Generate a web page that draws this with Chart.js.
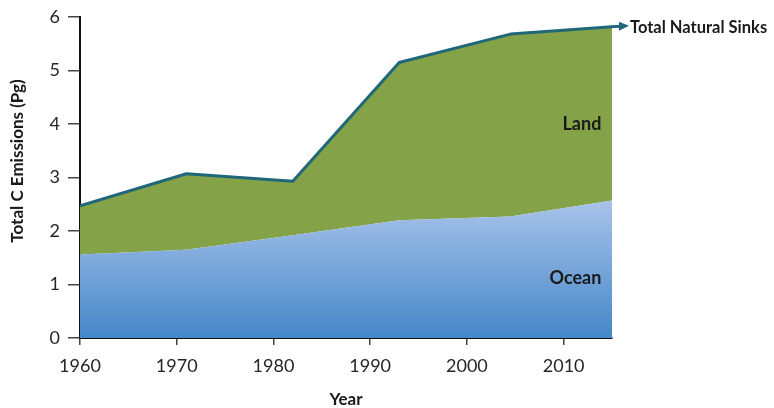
<!DOCTYPE html>
<html>
<head>
<meta charset="utf-8">
<script src="https://cdn.jsdelivr.net/npm/chart.js@4/dist/chart.umd.min.js"></script>
<style>
  html, body { margin: 0; padding: 0; background: #fff; }
  #wrap { width: 774px; height: 408px; }
</style>
</head>
<body>
<div id="wrap"><canvas id="sinksChart" width="774" height="408"></canvas></div>
<script>
const years = [1960, 1971, 1982, 1993, 2004.5, 2015];
const oceanSink = [1.56, 1.65, 1.92, 2.2, 2.27, 2.57];
const landSink = [0.91, 1.42, 1.01, 2.95, 3.41, 3.25];
const xTickStep = 10;
const yTickStep = 1;

const TEAL = "#1f6779";
const GREEN = "#84a348";
const FONT = "Lato, 'Open Sans', sans-serif";

function toPoints(values) {
  return years.map((yr, i) => ({ x: yr, y: values[i] }));
}

function oceanGradient(context) {
  const chart = context.chart;
  const { ctx, chartArea, scales } = chart;
  if (!chartArea) return "#6f9fd8";
  const top = scales.y.getPixelForValue(Math.max(...oceanSink));
  const g = ctx.createLinearGradient(0, top, 0, chartArea.bottom);
  g.addColorStop(0, "#a9c3ea");
  g.addColorStop(1, "#4587c8");
  return g;
}

const labelsPlugin = {
  id: "sinkLabels",
  afterDatasetsDraw(chart) {
    const { ctx, scales } = chart;
    const meta = chart.getDatasetMeta(1);
    const last = meta.data[meta.data.length - 1];

    // arrow out of the top line
    ctx.save();
    ctx.strokeStyle = TEAL;
    ctx.fillStyle = TEAL;
    ctx.lineWidth = 3;
    ctx.beginPath();
    ctx.moveTo(last.x - 1, last.y);
    ctx.lineTo(last.x + 9, last.y - 0.5);
    ctx.stroke();
    ctx.beginPath();
    ctx.moveTo(last.x + 17, last.y - 0.8);
    ctx.lineTo(last.x + 7, last.y - 5);
    ctx.lineTo(last.x + 7, last.y + 4);
    ctx.closePath();
    ctx.fill();

    ctx.fillStyle = "#1a1a1a";
    ctx.font = `bold 16.5px ${FONT}`;
    ctx.textBaseline = "middle";
    ctx.textAlign = "left";
    ctx.fillText("Total Natural Sinks", last.x + 18, last.y + 1);

    ctx.font = `bold 18px ${FONT}`;
    ctx.textAlign = "right";
    const xr = scales.x.getPixelForValue(2013.9);
    ctx.fillText("Land", xr, scales.y.getPixelForValue(4.0));
    ctx.fillText("Ocean", xr, scales.y.getPixelForValue(1.12));
    ctx.restore();
  },
};

new Chart(document.getElementById("sinksChart"), {
  type: "line",
  data: {
    datasets: [
      {
        label: "Ocean",
        data: toPoints(oceanSink),
        backgroundColor: oceanGradient,
        borderWidth: 0,
        fill: "origin",
      },
      {
        label: "Land",
        data: toPoints(landSink),
        backgroundColor: GREEN,
        borderColor: TEAL,
        borderWidth: 3,
        borderJoinStyle: "round",
        fill: "-1",
      },
    ],
  },
  options: {
    responsive: false,
    animation: false,
    layout: { padding: { left: 0, right: 162, top: 16, bottom: 0 } },
    elements: { point: { radius: 0 }, line: { tension: 0 } },
    plugins: { legend: { display: false }, tooltip: { enabled: false } },
    scales: {
      x: {
        type: "linear",
        min: 1960,
        max: 2015,
        afterFit: (scale) => { scale.height = 70; },
        border: { display: true, color: "#111", width: 2 },
        grid: { drawOnChartArea: false, drawTicks: true, tickLength: 7, color: "#444", lineWidth: 1.5 },
        ticks: {
          stepSize: xTickStep,
          includeBounds: false,
          padding: 10,
          color: "#262626",
          font: { family: FONT, size: 18 },
          callback: (v) => String(v),
        },
        title: {
          display: true,
          text: "Year",
          color: "#1a1a1a",
          font: { family: FONT, size: 17, weight: "bold", lineHeight: 1 },
          padding: 0,
        },
      },
      y: {
        stacked: true,
        min: 0,
        max: 6,
        afterFit: (scale) => { scale.width = 80; },
        border: { display: true, color: "#111", width: 2 },
        grid: { drawOnChartArea: false, drawTicks: true, tickLength: 12, color: "#444", lineWidth: 1.5 },
        ticks: {
          stepSize: yTickStep,
          padding: 8,
          color: "#262626",
          font: { family: FONT, size: 18, lineHeight: 1 },
        },
        title: {
          display: true,
          // leading spaces nudge the rotated title up, as in the source figure
          text: "        Total C Emissions (Pg)",
          color: "#1a1a1a",
          font: { family: FONT, size: 17, weight: "bold" },
          padding: { top: 7, bottom: 0 },
        },
      },
    },
  },
  plugins: [labelsPlugin],
});
</script>
</body>
</html>
